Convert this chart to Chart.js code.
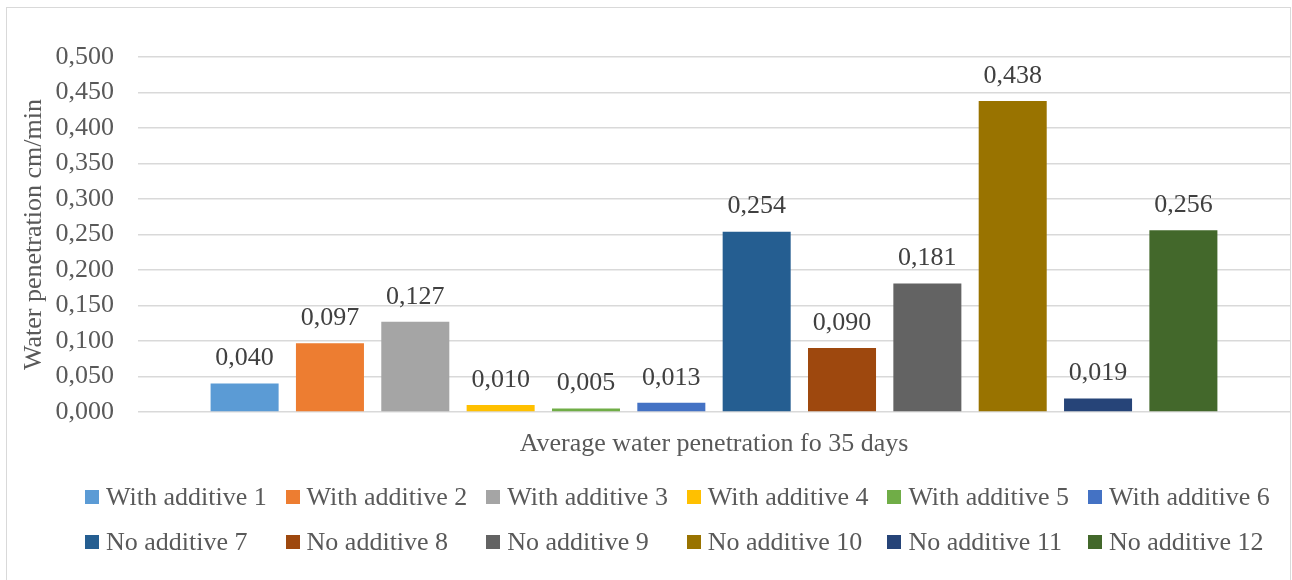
<!DOCTYPE html>
<html>
<head>
<meta charset="utf-8">
<script src="https://cdn.jsdelivr.net/npm/chart.js@4.4.0/dist/chart.umd.min.js"></script>
<style>
  html, body { margin: 0; padding: 0; background: #fff; }
  #wrap { position: relative; width: 1292px; height: 580px; overflow: hidden; }
  #frame { position: absolute; left: 6px; top: 7px; width: 1285px; height: 620px;
           border: 1.5px solid #d9d9d9; box-sizing: border-box; }
  #chart { position: absolute; left: 0; top: 0; }
  #legend { position: absolute; left: 85px; top: 474px;
            display: grid; grid-template-columns: repeat(6, 200.6px);
            font: 26px "Liberation Serif", "Times New Roman", serif; color: #595959; }
  #legend .item { display: flex; align-items: center; height: 45px; white-space: nowrap; }
  #legend .sw { width: 14px; height: 14px; margin-right: 7px; flex: none; }
</style>
</head>
<body>
<div id="wrap">
  <div id="frame"></div>
  <canvas id="chart" width="1292" height="580"></canvas>
  <div id="legend"></div>
</div>
<script>
// Category and series
const categories = ['Average water penetration fo 35 days'];
const seriesNames = [
  'With additive 1', 'With additive 2', 'With additive 3', 'With additive 4',
  'With additive 5', 'With additive 6', 'No additive 7', 'No additive 8',
  'No additive 9', 'No additive 10', 'No additive 11', 'No additive 12'
];
const seriesValues = [0.040, 0.097, 0.127, 0.010, 0.005, 0.013, 0.254, 0.090, 0.181, 0.438, 0.019, 0.256];
const seriesColors = [
  '#5B9BD5', '#ED7D31', '#A5A5A5', '#FFC000', '#70AD47', '#4472C4',
  '#255E91', '#9E480E', '#636363', '#997300', '#264478', '#43682B'
];
const yAxisTitle = 'Water penetration cm/min';
const yMin = 0, yMax = 0.5, yStep = 0.05;

const FONT = '"Liberation Serif", "Times New Roman", serif';
const fmt = v => v.toFixed(3).replace('.', ',');

const datasets = seriesNames.map((name, i) => ({
  label: name,
  data: [seriesValues[i]],
  backgroundColor: seriesColors[i],
  categoryPercentage: 0.889,
  barPercentage: 0.797
}));

// Value labels above each bar
const valueLabels = {
  id: 'valueLabels',
  afterDatasetsDraw(chart) {
    const ctx = chart.ctx;
    ctx.save();
    ctx.font = '26px ' + FONT;
    ctx.fillStyle = '#404040';
    ctx.textAlign = 'center';
    ctx.textBaseline = 'middle';
    chart.data.datasets.forEach((ds, i) => {
      chart.getDatasetMeta(i).data.forEach((bar, j) => {
        ctx.fillText(fmt(ds.data[j]), bar.x, bar.y - 25);
      });
    });
    ctx.restore();
  }
};

const chart = new Chart(document.getElementById('chart'), {
  type: 'bar',
  data: { labels: categories, datasets },
  options: {
    responsive: false,
    animation: false,
    layout: { padding: { top: 57, right: 2, left: 0, bottom: 0 } },
    plugins: { legend: { display: false }, tooltip: { enabled: false } },
    scales: {
      x: {
        grid: { display: false, drawTicks: false },
        border: { display: false },
        ticks: { color: '#595959', font: { family: FONT, size: 26, lineHeight: 1.2 }, padding: 17 },
        afterFit: s => { s.height = 168; }
      },
      y: {
        min: yMin, max: yMax,
        ticks: {
          stepSize: yStep,
          color: '#595959',
          font: { family: FONT, size: 26, lineHeight: 1.2 },
          padding: 24,
          callback: v => fmt(v)
        },
        grid: { color: '#d9d9d9', lineWidth: 1.5, drawTicks: false },
        border: { display: false },
        title: {
          display: true, text: yAxisTitle, color: '#595959',
          font: { family: FONT, size: 26, lineHeight: 1.2 },
          padding: { top: 19, bottom: 0 }
        },
        afterFit: s => { s.width = 138; }
      }
    }
  },
  plugins: [valueLabels]
});

// Legend laid out in fixed-width columns
const legend = document.getElementById('legend');
chart.data.datasets.forEach(ds => {
  const item = document.createElement('div');
  item.className = 'item';
  const sw = document.createElement('span');
  sw.className = 'sw';
  sw.style.background = ds.backgroundColor;
  const txt = document.createElement('span');
  txt.textContent = ds.label;
  item.appendChild(sw);
  item.appendChild(txt);
  legend.appendChild(item);
});
</script>
</body>
</html>
